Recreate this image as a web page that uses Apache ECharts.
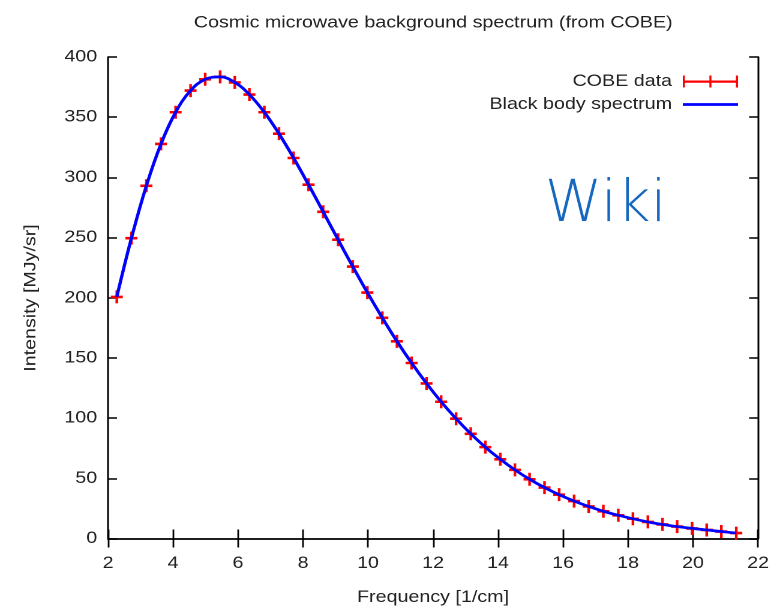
<!DOCTYPE html>
<html>
<head>
<meta charset="utf-8">
<script src="https://cdn.jsdelivr.net/npm/echarts@6/dist/echarts.min.js"></script>
<style>
  html, body { margin: 0; padding: 0; background: #fff; overflow: hidden; }
  /* the chart is laid out at 645px wide and widened to 774px, giving the broad lettering */
  #chart { width: 645px; height: 607px; transform: scaleX(1.2); transform-origin: 0 0; }
</style>
</head>
<body>
<div id="chart"></div>
<script>
// FIRAS measurements: frequency in 1/cm, intensity in MJy/sr
const frequency = [2.27, 2.72, 3.18, 3.63, 4.08, 4.54, 4.99, 5.45, 5.90, 6.35, 6.81,
  7.26, 7.71, 8.17, 8.62, 9.08, 9.53, 9.98, 10.44, 10.89, 11.34, 11.80, 12.25,
  12.71, 13.16, 13.61, 14.07, 14.52, 14.97, 15.43, 15.88, 16.34, 16.79, 17.24,
  17.70, 18.15, 18.61, 19.06, 19.51, 19.97, 20.42, 20.87, 21.33];
const cobeIntensity = [200.7, 249.5, 293.0, 327.8, 354.1, 372.1, 381.5, 383.5, 378.9,
  368.8, 354.1, 336.3, 316.1, 293.9, 271.4, 248.2, 225.9, 204.3, 183.3, 163.8,
  145.8, 128.8, 113.6, 99.5, 87.0, 75.9, 65.8, 57.0, 49.2, 42.3, 36.4, 31.1,
  26.6, 22.6, 19.3, 16.4, 13.8, 11.7, 9.9, 8.4, 7.1, 5.8, 4.5];
// Black body curve sampled at the same frequencies
const blackBodyIntensity = [200.7, 249.5, 293.0, 327.8, 354.1, 372.1, 381.5, 383.5, 378.9,
  368.8, 354.1, 336.3, 316.1, 293.9, 271.4, 248.2, 225.9, 204.3, 183.3, 163.8,
  145.8, 128.8, 113.6, 99.5, 87.0, 75.9, 65.8, 57.0, 49.2, 42.3, 36.4, 31.1,
  26.6, 22.6, 19.3, 16.4, 13.8, 11.7, 9.9, 8.4, 7.1, 5.8, 4.5];

const xTicks = { min: 2, max: 22, interval: 2 };
const yTicks = { min: 0, max: 400, interval: 50 };

const FONT = '"Liberation Sans", Arial, sans-serif';
const FS = 16.4;
const STRETCH = 1.2;
const plusPath = 'path://M0,5.2h10v2.6h-10z M3.9,0h2.2v13h-2.2z';
const errorBarIcon = 'path://M0,0h1.7v12h-1.7z M0,5h46v2.2h-46z M22.15,0h1.7v12h-1.7z M44.3,0h1.7v12h-1.7z';
const lineIcon = 'path://M0,0h46v2.7h-46z';

const axisLine = { show: true, lineStyle: { color: '#000', width: 1.5 } };
const xTick = { show: true, inside: true, length: 9, lineStyle: { color: '#000', width: 1.4 } };
const yTick = { show: true, inside: true, length: 7.5, lineStyle: { color: '#000', width: 1.5 } };
const tickLabel = { color: '#222', fontSize: FS, fontFamily: FONT };
const nameStyle = { fontFamily: FONT, fontSize: FS, color: '#222' };

const chart = echarts.init(document.getElementById('chart'), null,
  { renderer: 'canvas', devicePixelRatio: 2 });
chart.setOption({
  animation: false,
  backgroundColor: '#fff',
  title: {
    text: 'Cosmic microwave background spectrum (from COBE)',
    left: 356, top: 10, textAlign: 'center',
    textStyle: { fontFamily: FONT, fontSize: FS, fontWeight: 'normal', color: '#222' }
  },
  grid: {
    left: 90, right: 13.3, top: 57, bottom: 68.5,
    containLabel: false, outerBoundsMode: 'none'
  },
  legend: {
    orient: 'vertical', right: 25, top: 66.5, align: 'right',
    itemWidth: 46, itemHeight: 12, itemGap: 3,
    textStyle: { fontFamily: FONT, fontSize: FS, color: '#222', lineHeight: 20, padding: [0, 4, 0, 0] },
    data: [
      { name: 'COBE data', icon: errorBarIcon, itemStyle: { color: '#ff0000' } },
      { name: 'Black body spectrum', icon: lineIcon, itemStyle: { color: '#0000ff' } }
    ]
  },
  xAxis: [
    {
      type: 'value', min: xTicks.min, max: xTicks.max, interval: xTicks.interval,
      name: 'Frequency [1/cm]', nameLocation: 'middle', nameGap: 51, nameTextStyle: nameStyle,
      axisLine, axisTick: xTick, axisLabel: Object.assign({ margin: 17 }, tickLabel),
      splitLine: { show: false }
    },
    {
      type: 'value', position: 'top', min: xTicks.min, max: xTicks.max, interval: xTicks.interval,
      axisLine, axisTick: xTick, axisLabel: { show: false }, splitLine: { show: false }
    }
  ],
  yAxis: [
    {
      type: 'value', min: yTicks.min, max: yTicks.max, interval: yTicks.interval,
      axisLine, axisTick: yTick, axisLabel: Object.assign({ margin: 9 }, tickLabel),
      splitLine: { show: false }
    },
    {
      type: 'value', position: 'right', min: yTicks.min, max: yTicks.max, interval: yTicks.interval,
      axisLine, axisTick: yTick, axisLabel: { show: false }, splitLine: { show: false }
    }
  ],
  graphic: [
    {
      // vertical axis title, widened along its own reading direction only
      type: 'text', x: 25.8, y: 298, rotation: Math.PI / 2,
      scaleX: STRETCH, scaleY: 1 / STRETCH,
      style: {
        text: 'Intensity [MJy/sr]', fill: '#222', align: 'center', verticalAlign: 'middle',
        font: FS + 'px ' + FONT
      }
    },
    {
      // watermark, narrowed back so it keeps its own proportions after widening
      type: 'text', x: 454, y: 177, scaleX: 1 / STRETCH, z: 10,
      style: {
        text: 'Wiki', fill: '#1668bf', verticalAlign: 'top',
        font: '200 58px "DejaVu Sans", sans-serif'
      }
    }
  ],
  series: [
    {
      name: 'COBE data', type: 'scatter', z: 2,
      symbol: plusPath, symbolSize: [10, 13],
      itemStyle: { color: '#ff0000', opacity: 1 },
      data: frequency.map((f, i) => [f, cobeIntensity[i]])
    },
    {
      name: 'Black body spectrum', type: 'line', z: 3,
      smooth: 0.4, symbol: 'none', showSymbol: false,
      lineStyle: { color: '#0000ff', width: 2.7 },
      itemStyle: { color: '#0000ff' },
      data: frequency.map((f, i) => [f, blackBodyIntensity[i]])
    }
  ]
});
</script>
</body>
</html>
